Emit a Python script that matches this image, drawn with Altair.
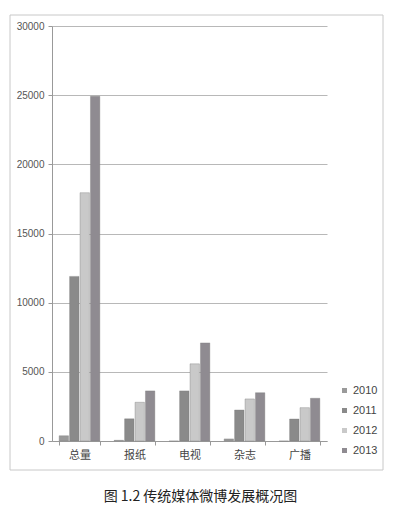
import altair as alt
import pandas as pd

categories = ["总量", "报纸", "电视", "杂志", "广播"]
years = ["2010", "2011", "2012", "2013"]
v2010 = [380, 50, 0, 150, 0]
v2011 = [11900, 1600, 3620, 2240, 1590]
v2012 = [17950, 2800, 5580, 3040, 2410]
v2013 = [24920, 3620, 7090, 3490, 3090]
colors = ["#9a9a9a", "#8a8a8a", "#c9c9c9", "#8f8b91"]
caption = "图 1.2 传统媒体微博发展概况图"

rows = []
for i, c in enumerate(categories):
    for y, vals in zip(years, [v2010, v2011, v2012, v2013]):
        rows.append({"cat": c, "year": y, "value": vals[i]})
df = pd.DataFrame(rows)

bars = alt.Chart(df).mark_bar(stroke="#7a7a7a", strokeWidth=0.6, strokeOpacity=0.6).encode(
    x=alt.X("cat:N", sort=categories, title=None,
            scale=alt.Scale(paddingInner=0.26, paddingOuter=0.13),
            axis=alt.Axis(labelAngle=0, tickBand="extent", labelFont="Noto Sans CJK SC",
                          labelFontSize=11, labelColor="#444", labelPadding=4,
                          domainColor="#999", tickColor="#999", tickSize=4,
                          grid=False)),
    xOffset=alt.XOffset("year:N", sort=years, scale=alt.Scale(paddingInner=0.1)),
    y=alt.Y("value:Q", title=None,
            scale=alt.Scale(domain=[0, 30000]),
            axis=alt.Axis(values=[0, 5000, 10000, 15000, 20000, 25000, 30000], format="d",
                          labelFont="Liberation Sans", labelFontSize=10, labelColor="#555",
                          domainColor="#999", tickColor="#999", tickSize=4, labelPadding=4,
                          gridColor="#b8b8b8", gridWidth=1)),
    color=alt.Color("year:N", sort=years, scale=alt.Scale(domain=years, range=colors),
                    legend=alt.Legend(title=None, orient="none", legendX=287, legendY=359,
                                      symbolType="square", symbolSize=25, symbolStrokeWidth=0,
                                      labelFont="Liberation Sans", labelFontSize=11,
                                      labelColor="#444", rowPadding=8, labelOffset=3)),
)

frame = alt.Chart(pd.DataFrame({"a": [0]})).mark_rect(
    fill=None, stroke="#c8c8c8", strokeWidth=1
).encode(
    x=alt.value(-42), x2=alt.value(331), y=alt.value(-11), y2=alt.value(444)
)

chart = alt.layer(bars, frame).properties(
    width=275, height=415,
    autosize=alt.AutoSizeParams(type="none"),
    padding={"left": 44, "top": 18, "right": 60, "bottom": 72},
    title=alt.TitleParams(caption, orient="bottom", anchor="middle", frame="group",
                          font="Noto Sans CJK SC", fontSize=14, fontWeight="normal",
                          color="#222", offset=19, dx=11),
).configure_view(stroke=None)

chart.save("out.html", embed_options={"renderer": "svg", "actions": False})
